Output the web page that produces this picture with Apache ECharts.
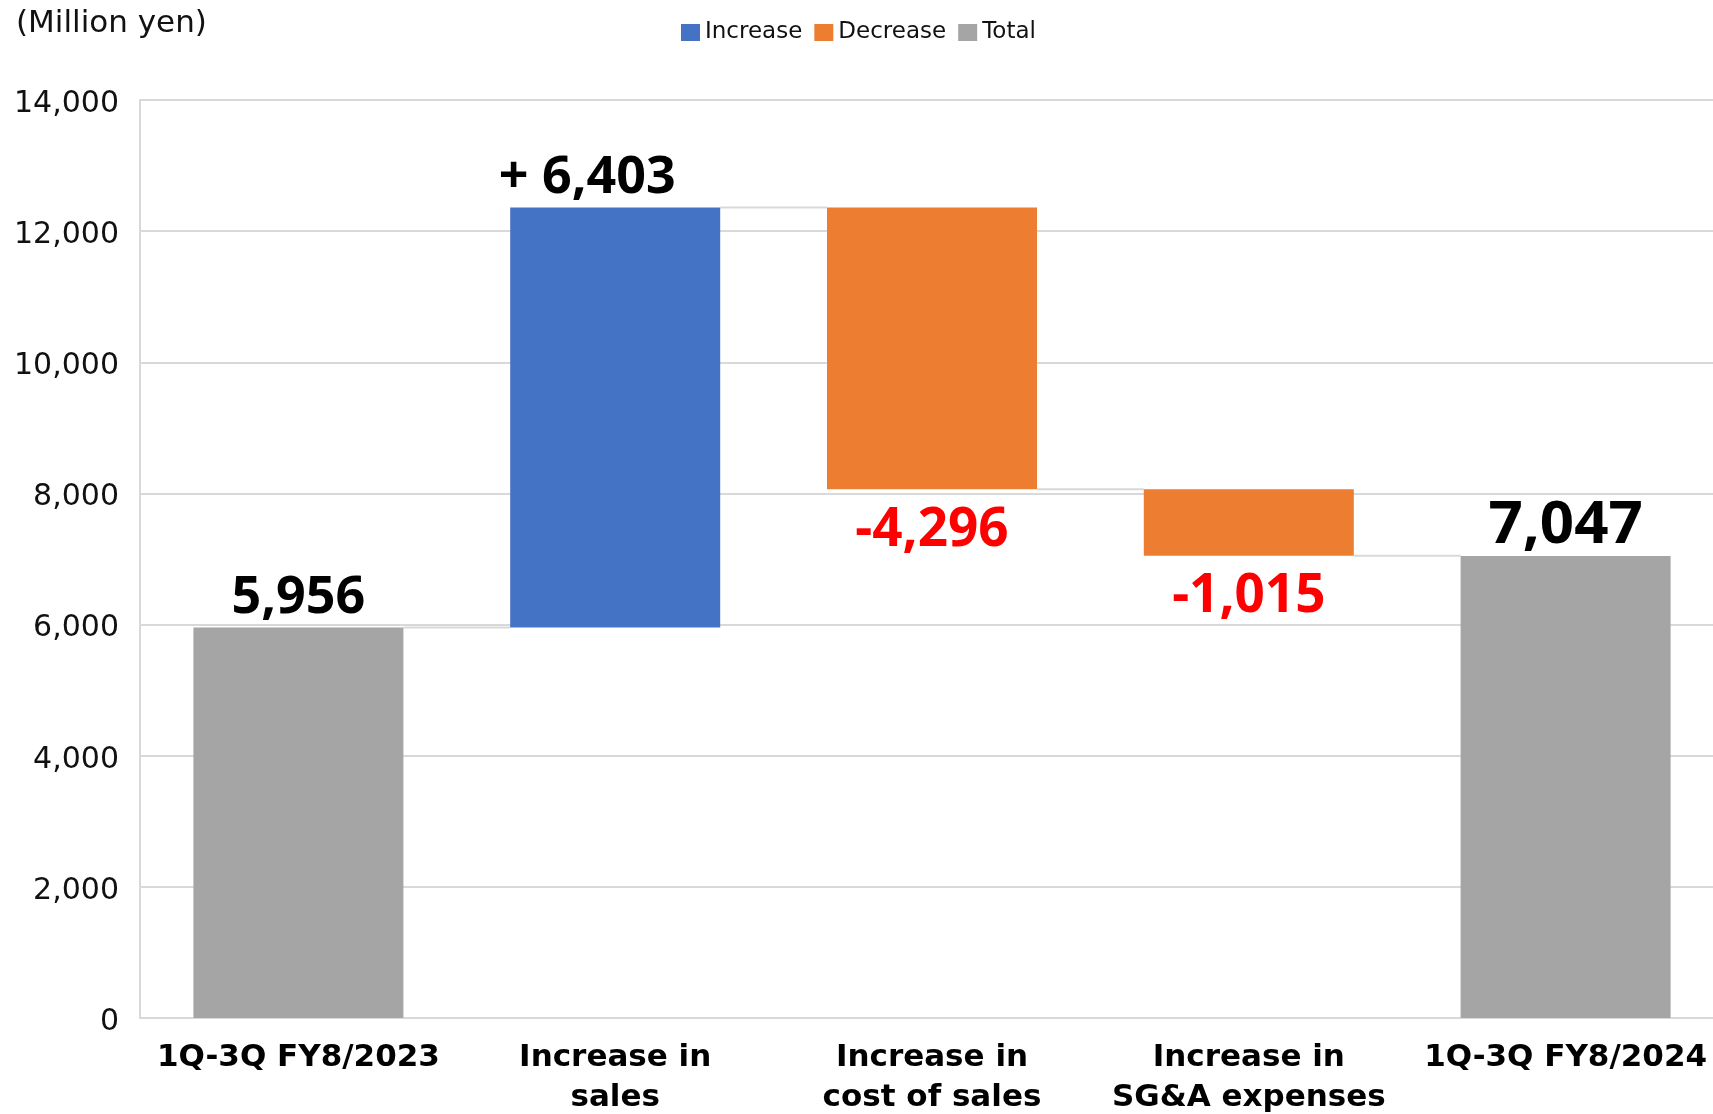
<!DOCTYPE html>
<html>
<head>
<meta charset="utf-8">
<script src="https://cdn.jsdelivr.net/npm/echarts@6/dist/echarts.min.js"></script>
<style>
html, body { margin: 0; padding: 0; background: #ffffff; }
#chart { width: 1713px; height: 1114px; }
</style>
</head>
<body>
<div id="chart"></div>
<script>
// ---- data ----
const categories = ['1Q-3Q FY8/2023', 'Increase in\nsales', 'Increase in\ncost of sales', 'Increase in\nSG&A expenses', '1Q-3Q FY8/2024'];
const totalValues = [5956, null, null, null, 7047];
const changeValues = [null, 6403, -4296, -1015, null];
const legendNames = ['Increase', 'Decrease', 'Total'];
const yMin = 0, yMax = 14000, yInterval = 2000;

// ---- derived waterfall series ----
const baseData = [], incData = [], decData = [], totData = [], connectorData = [];
let running = 0;
for (let i = 0; i < categories.length; i++) {
  const t = totalValues[i], c = changeValues[i];
  if (t != null) {
    baseData.push(0); incData.push('-'); decData.push('-'); totData.push(t);
    running = t;
  } else if (c >= 0) {
    baseData.push(running); incData.push(c); decData.push('-'); totData.push('-');
    running += c;
  } else {
    running += c;
    baseData.push(running); incData.push('-'); decData.push(-c); totData.push('-');
  }
  if (i < categories.length - 1) connectorData.push([i, running]);
}
const fmt = v => Number(v).toLocaleString('en-US');

const BAR_W = 210;
const labelFont = 'Noto Sans';

const chart = echarts.init(document.getElementById('chart'), null, { renderer: 'canvas' });
chart.setOption({
  animation: false,
  backgroundColor: '#ffffff',
  title: {
    text: '(Million yen)',
    left: 16, top: 8, padding: 0,
    textStyle: { fontFamily: 'DejaVu Sans', fontSize: 31, fontWeight: 'normal', color: '#111' }
  },
  legend: {
    data: legendNames,
    left: 681, top: 21, padding: 0,
    itemWidth: 19, itemHeight: 17, itemGap: 12,
    icon: 'rect',
    textStyle: { fontFamily: 'DejaVu Sans', fontSize: 23, color: '#111' }
  },
  grid: { left: 140, top: 100, width: 1584, height: 918, outerBoundsMode: 'none', containLabel: false },
  xAxis: {
    type: 'category',
    data: categories,
    axisTick: { show: false },
    axisLine: { show: true, lineStyle: { color: '#d9d9d9', width: 2 } },
    axisLabel: {
      interval: 0, margin: 20,
      fontFamily: 'DejaVu Sans', fontSize: 31, fontWeight: 'bold', color: '#000', lineHeight: 40
    },
    splitLine: { show: false }
  },
  yAxis: {
    type: 'value',
    min: yMin, max: yMax, interval: yInterval,
    axisLine: { show: true, lineStyle: { color: '#d9d9d9', width: 2 } },
    axisTick: { show: false },
    axisLabel: {
      margin: 21, fontFamily: 'DejaVu Sans', fontSize: 30, color: '#111',
      verticalAlign: 'top', lineHeight: 8,
      formatter: v => fmt(v)
    },
    splitLine: { show: true, lineStyle: { color: '#d9d9d9', width: 2 } }
  },
  series: [
    {
      name: 'base', type: 'bar', stack: 'wf', barWidth: BAR_W,
      data: baseData,
      itemStyle: { color: 'rgba(0,0,0,0)' },
      emphasis: { disabled: true }, silent: true
    },
    {
      name: 'Increase', type: 'bar', stack: 'wf', barWidth: BAR_W,
      data: incData,
      itemStyle: { color: '#4472C4' },
      label: {
        show: true, position: 'top', distance: 3, offset: [-28, 0],
        formatter: p => '+ ' + fmt(p.value),
        fontFamily: labelFont, fontSize: 52, fontWeight: 'bold', color: '#000'
      }
    },
    {
      name: 'Decrease', type: 'bar', stack: 'wf', barWidth: BAR_W,
      data: decData,
      itemStyle: { color: '#ED7D31' },
      label: {
        show: true, position: 'bottom', distance: 15,
        formatter: p => fmt(changeValues[p.dataIndex]),
        fontFamily: labelFont, fontSize: 53, fontWeight: 'bold', color: '#FF0000'
      }
    },
    {
      name: 'Total', type: 'bar', stack: 'wf', barWidth: BAR_W,
      data: totData.map((v, i) => v === '-' ? v : {
        value: v,
        label: i === totData.length - 1 ? { fontSize: 60, distance: 0 } : { fontSize: 52, distance: 3 }
      }),
      itemStyle: { color: '#A5A5A5' },
      label: {
        show: true, position: 'top',
        formatter: p => fmt(p.value),
        fontFamily: labelFont, fontWeight: 'bold', color: '#000'
      }
    },
    {
      name: 'connector', type: 'custom',
      data: connectorData,
      encode: { x: 0, y: 1 },
      silent: true,
      z: 1,
      renderItem: (params, api) => {
        const p = api.coord([api.value(0), api.value(1)]);
        const w = api.size([1, 0])[0];
        return {
          type: 'line',
          shape: { x1: p[0] + BAR_W / 2, y1: p[1], x2: p[0] + w - BAR_W / 2, y2: p[1] },
          style: { stroke: '#d9d9d9', lineWidth: 2 }
        };
      }
    }
  ]
});
</script>
</body>
</html>
